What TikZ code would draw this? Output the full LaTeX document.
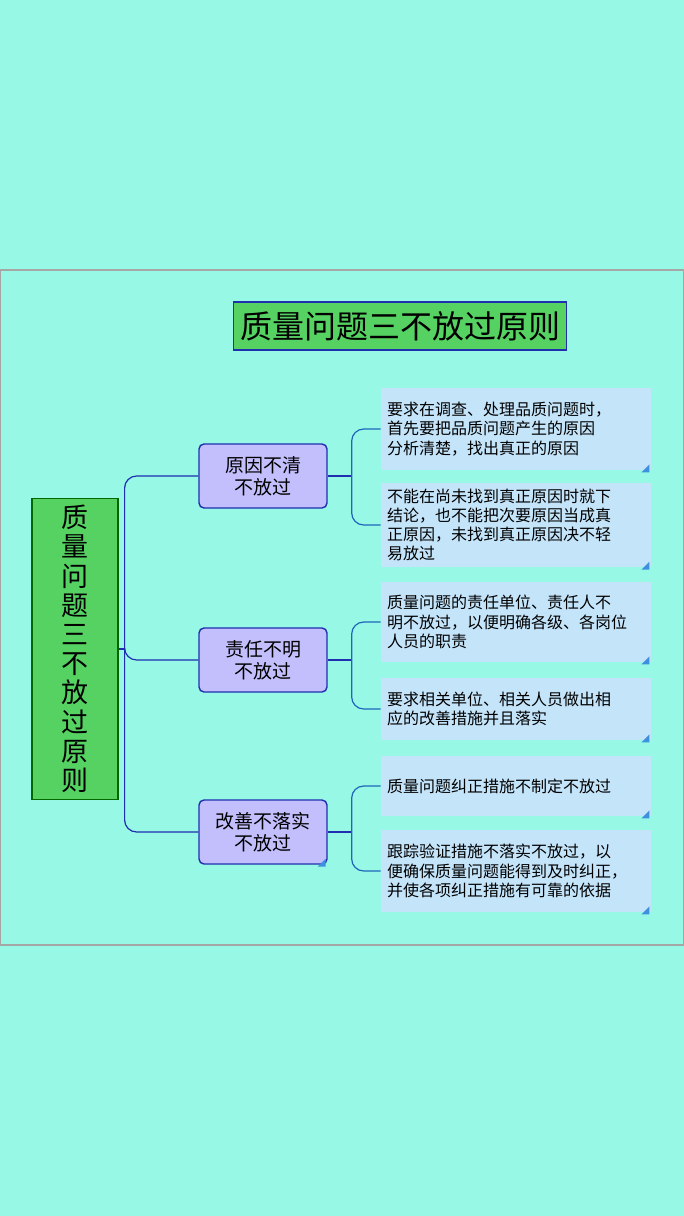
\documentclass[tikz,border=0pt]{standalone}
\usepackage{fontspec}
\newfontfamily\cjk{Noto Sans CJK SC}
\usetikzlibrary{positioning,calc}
\definecolor{bgaqua}{HTML}{97F8E6}
\definecolor{titlegreen}{HTML}{56D262}
\definecolor{edgeblue}{HTML}{1F2FB0}
\definecolor{midfill}{HTML}{C3BEFC}
\definecolor{leaffill}{HTML}{C4E4FA}
\definecolor{linkblue}{HTML}{1F66B8}
\definecolor{markblue}{HTML}{3D8FE0}
\tikzset{
  title box/.style={draw=edgeblue, line width=0.8pt, fill=titlegreen, minimum width=166pt, minimum height=24pt, font=\cjk\fontsize{16}{18}\selectfont},
  root box/.style={draw=black!60!green, line width=0.6pt, fill=titlegreen, minimum width=43pt, minimum height=149pt, align=center, font=\cjk\fontsize{13.5}{14.6}\selectfont},
  mid box/.style={draw=edgeblue, line width=0.7pt, rounded corners=2.5pt, fill=midfill, minimum width=64pt, minimum height=32pt, align=center, font=\cjk\fontsize{9.5}{11}\selectfont},
  leaf box/.style={fill=leaffill, minimum width=135pt, text width=129pt, align=left, inner sep=3pt, font=\cjk\fontsize{8}{9.6}\selectfont},
  link/.style={draw=edgeblue, line width=0.6pt, rounded corners=6pt},
  leaf link/.style={draw=linkblue, line width=0.6pt, rounded corners=6pt},
  corner mark/.style={fill=markblue, draw=none}
}
\newcommand{\cornermark}[1]{\fill[corner mark] ($(#1.south east)+(-1pt,-1pt)$) -- ++(0pt,4pt) -- ++(-4pt,-4pt) -- cycle;}
\begin{document}
\begin{tikzpicture}[x=0.5pt,y=-0.5pt]
  \fill[bgaqua] (0,0) rectangle (684,1216);
  \useasboundingbox (0,0) rectangle (684,1216);
  \draw[gray!70, line width=0.6pt] (0.5,270) rectangle (683.5,945);

  \node[title box] (title) at (400,326) {质量问题三不放过原则};
  \node[root box] (root) at (75,649) {质\\量\\问\\题\\三\\不\\放\\过\\原\\则};

  \node[mid box] (cause) at (263,476) {原因不清\\不放过};
  \node[mid box] (duty) at (263,660) {责任不明\\不放过};
  \node[mid box] (fix) at (263,832) {改善不落实\\不放过};

  \node[leaf box, minimum height=41pt] (c1) at (516,429) {要求在调查、处理品质问题时，\\首先要把品质问题产生的原因\\分析清楚，找出真正的原因\\[2pt]};
  \node[leaf box, minimum height=41pt] (c2) at (516,525) {不能在尚未找到真正原因时就下\\结论，也不能把次要原因当成真\\正原因，未找到真正原因决不轻\\易放过};
  \node[leaf box, minimum height=40pt] (d1) at (516,622) {质量问题的责任单位、责任人不\\明不放过，以便明确各级、各岗位\\人员的职责};
  \node[leaf box, minimum height=31pt] (d2) at (516,709) {要求相关单位、相关人员做出相\\应的改善措施并且落实};
  \node[leaf box, minimum height=30pt] (f1) at (516,786) {质量问题纠正措施不制定不放过};
  \node[leaf box, minimum height=41pt] (f2) at (516,871) {跟踪验证措施不落实不放过，以\\便确保质量问题能得到及时纠正，\\并使各项纠正措施有可靠的依据};

  % root to middle
  \draw[link] (root.east) -- ++(6,0) coordinate (rj);
  \draw[link] (cause.west) -| (rj) |- (fix.west);
  \draw[link] (rj) |- (duty.west);

  % middle to leaves
  \foreach \m/\a/\b in {cause/c1/c2, duty/d1/d2, fix/f1/f2}{
    \draw[link] (\m.east) -- ++(24,0) coordinate (\m j);
    \draw[leaf link] (\a.west) -| (\m j) |- (\b.west);
  }

  \foreach \n in {c1,c2,d1,d2,f1,f2,fix}{\cornermark{\n}}
\end{tikzpicture}
\end{document}
